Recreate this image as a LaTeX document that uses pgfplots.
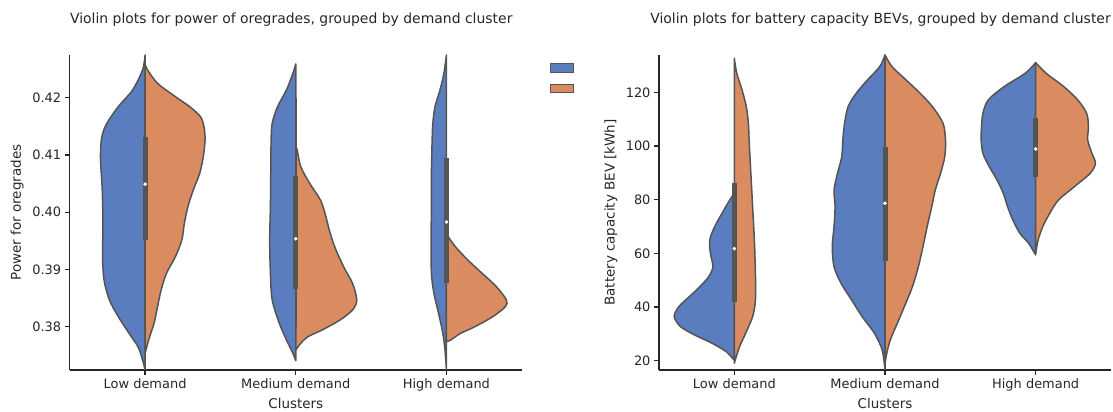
\documentclass[border=0pt]{standalone}
\usepackage{fontspec}
\setmainfont{DejaVu Sans}
\usepackage{pgfplots}
\pgfplotsset{compat=1.18}
\definecolor{vblue}{HTML}{597DBF}
\definecolor{vorange}{HTML}{DA8B5F}
\definecolor{vgray}{HTML}{545454}
\definecolor{axgray}{HTML}{262626}
\pgfplotsset{
  common/.style={
    scale only axis, width=452bp, height=315bp,
    xmin=-0.5, xmax=2.5,
    axis x line*=bottom, axis y line*=left,
    xtick={0,1,2}, xticklabels={Low demand, Medium demand, High demand},
    tick align=outside, major tick length=5bp,
    axis line style={color=axgray, line width=1.2bp},
    tick style={color=axgray, line width=1.2bp},
    tick label style={font=\fontsize{13}{15}\selectfont, text=axgray},
    label style={font=\fontsize{13.5}{16}\selectfont, text=axgray},
    title style={font=\fontsize{14}{16}\selectfont, text=axgray, at={(axis description cs:0.49,1)}, anchor=base, yshift=26bp},
    xlabel={Clusters},
    xlabel style={at={(axis description cs:0.5,0)}, anchor=center, yshift=-33bp},
    /pgf/number format/assume math mode=true,
  },
  vb/.style={fill=vblue, draw=vgray, line width=1.5bp, smooth, tension=0.5, line join=round, forget plot},
  vo/.style={fill=vorange, draw=vgray, line width=1.5bp, smooth, tension=0.5, line join=round, forget plot},
  wsk/.style={vgray, line width=1.5bp, forget plot},
  bx/.style={vgray, line width=5bp, forget plot},
  med/.style={only marks, mark=*, mark size=1.6bp, mark options={fill=white, draw=white}, forget plot},
}
\begin{document}
\begin{tikzpicture}
\useasboundingbox (0,0) rectangle (1113bp,412bp);
\begin{axis}[common, at={(69.75bp,42bp)}, anchor=south west,
  ymin=0.37243, ymax=0.42745,
  ytick={0.38,0.39,0.40,0.41,0.42},
  yticklabel style={/pgf/number format/.cd, fixed, fixed zerofill, precision=2},
  ylabel={Power for oregrades},
  ylabel style={at={(axis description cs:-0.1163,0.5)}, anchor=center},
  title={Violin plots for power of oregrades, grouped by demand cluster},
  legend style={draw=none, fill=none, inner sep=0pt, outer sep=0pt,
    at={(axis description cs:1.0614,0.9737)}, anchor=north west,
    row sep=10.9bp, nodes={inner sep=0pt, outer sep=0pt}},
]
\addlegendimage{legend image code/.code={\filldraw[fill=vblue, draw=vgray, line width=0.6bp] (0bp,-4.4bp) rectangle (23bp,4.4bp);}}
\addlegendentry{\mbox{}}
\addlegendimage{legend image code/.code={\filldraw[fill=vorange, draw=vgray, line width=0.6bp] (0bp,-4.4bp) rectangle (23bp,4.4bp);}}
\addlegendentry{\mbox{}}
% Low demand
\addplot[vb] coordinates {(0,0.37243) (-0.0166,0.37418) (-0.0474,0.37651) (-0.1066,0.37884) (-0.1777,0.38175) (-0.2370,0.38466) (-0.2725,0.38815) (-0.2820,0.39223) (-0.2796,0.39805) (-0.2844,0.40387) (-0.2962,0.40969) (-0.2867,0.41319) (-0.2536,0.41552) (-0.1777,0.41843) (-0.0829,0.42134) (-0.0166,0.42483) (0,0.42745)} -- cycle;
\addplot[vo] coordinates {(0,0.37534) (0.0237,0.37767) (0.0592,0.38058) (0.0829,0.38349) (0.1066,0.38640) (0.1422,0.38932) (0.2014,0.39223) (0.2441,0.39514) (0.2607,0.39805) (0.2844,0.40096) (0.3199,0.40387) (0.3626,0.40678) (0.3863,0.40969) (0.3981,0.41261) (0.3910,0.41493) (0.3673,0.41668) (0.2962,0.41843) (0.2014,0.42017) (0.0829,0.42250) (0.0166,0.42483) (0,0.42588)} -- cycle;
% Medium demand
\addplot[vb] coordinates {(1,0.37406) (0.9810,0.37534) (0.9384,0.37767) (0.8910,0.38058) (0.8436,0.38466) (0.8318,0.38932) (0.8270,0.39514) (0.8318,0.40096) (0.8341,0.40678) (0.8365,0.41261) (0.8436,0.41552) (0.8791,0.41843) (0.9384,0.42134) (0.9810,0.42425) (1,0.42588)} -- cycle;
\addplot[vo] coordinates {(1,0.37592) (1.0332,0.37709) (1.0806,0.37825) (1.1754,0.37942) (1.2938,0.38116) (1.3768,0.38291) (1.4052,0.38466) (1.3768,0.38757) (1.3175,0.39048) (1.2583,0.39397) (1.2227,0.39688) (1.1943,0.39980) (1.1635,0.40213) (1.0924,0.40504) (1.0332,0.40795) (1.0095,0.41086) (1,0.41140)} -- cycle;
% High demand
\addplot[vb] coordinates {(2,0.37243) (1.9905,0.37592) (1.9763,0.37884) (1.9479,0.38233) (1.9171,0.38582) (1.9005,0.38932) (1.8981,0.39514) (1.9005,0.40096) (1.9005,0.40678) (1.9052,0.41261) (1.9100,0.41552) (1.9242,0.41843) (1.9573,0.42134) (1.9834,0.42425) (2,0.42745)} -- cycle;
\addplot[vo] coordinates {(2,0.37738) (2.0284,0.37767) (2.0948,0.37884) (2.1896,0.38000) (2.3081,0.38175) (2.3910,0.38349) (2.3981,0.38466) (2.3318,0.38699) (2.2370,0.38932) (2.1422,0.39164) (2.0592,0.39397) (2.0118,0.39572) (2,0.39600)} -- cycle;
% inner boxes
\addplot[wsk] coordinates {(0,0.38) (0,0.42)};
\addplot[wsk] coordinates {(1,0.38) (1,0.42)};
\addplot[wsk] coordinates {(2,0.38) (2,0.42)};
\addplot[bx] coordinates {(0,0.39514) (0,0.41307)};
\addplot[bx] coordinates {(1,0.38664) (1,0.40632)};
\addplot[bx] coordinates {(2,0.38768) (2,0.40940)};
\addplot[med] coordinates {(0,0.40490) (1,0.39537) (2,0.39828)};
\end{axis}

\begin{axis}[common, at={(659bp,42bp)}, anchor=south west,
  ymin=16.52, ymax=133.91,
  ytick={20,40,60,80,100,120},
  ylabel={Battery capacity BEV [kWh]},
  ylabel style={at={(axis description cs:-0.1062,0.5)}, anchor=center},
  title={Violin plots for battery capacity BEVs, grouped by demand cluster},
]
% Low demand
\addplot[vb] coordinates {(0,20.25) (-0.0117,20.87) (-0.0537,23.35) (-0.1470,26.46) (-0.2637,29.57) (-0.3571,32.67) (-0.3991,36.40) (-0.3687,40.12) (-0.2987,43.85) (-0.2287,47.58) (-0.1704,51.30) (-0.1424,55.03) (-0.1587,60.00) (-0.1634,64.97) (-0.1307,69.94) (-0.0817,74.91) (-0.0303,79.88) (0,82.36)} -- cycle;
\addplot[vo] coordinates {(0,19.01) (0.0093,20.87) (0.0350,25.22) (0.0747,30.19) (0.1214,36.40) (0.1400,42.61) (0.1400,52.55) (0.1330,64.97) (0.1214,77.39) (0.1097,89.81) (0.0980,102.24) (0.0933,108.45) (0.0793,114.66) (0.0513,120.87) (0.0163,127.08) (0,132.67)} -- cycle;
% Medium demand
\addplot[vb] coordinates {(1,16.52) (0.9813,23.98) (0.9300,30.19) (0.8483,36.40) (0.7783,42.61) (0.7083,48.82) (0.6616,55.03) (0.6499,62.48) (0.6616,69.94) (0.6686,77.39) (0.6616,83.60) (0.6849,89.81) (0.7130,96.02) (0.7200,102.24) (0.7316,108.45) (0.7550,114.66) (0.8086,119.63) (0.8833,124.60) (0.9650,129.57) (1,133.91)} -- cycle;
\addplot[vo] coordinates {(1,19.01) (1.0117,22.73) (1.0350,27.70) (1.0817,33.91) (1.1284,40.12) (1.1820,47.58) (1.2217,55.03) (1.2520,62.48) (1.2800,69.94) (1.3104,77.39) (1.3337,83.60) (1.3687,89.81) (1.3967,96.02) (1.4014,102.24) (1.3851,108.45) (1.3151,114.66) (1.2334,119.63) (1.1400,124.60) (1.0467,129.57) (1,133.91)} -- cycle;
% High demand
\addplot[vb] coordinates {(2,59.38) (1.9533,63.73) (1.8950,67.45) (1.8483,72.42) (1.8133,77.39) (1.7853,82.36) (1.7433,87.33) (1.6920,92.30) (1.6499,97.27) (1.6383,102.24) (1.6406,107.20) (1.6499,112.17) (1.6849,117.14) (1.7900,122.11) (1.9300,127.08) (2,131.06)} -- cycle;
\addplot[vo] coordinates {(2,60.00) (2.0163,64.97) (2.0467,69.94) (2.0933,74.91) (2.1517,79.88) (2.2567,84.84) (2.3617,89.81) (2.3967,93.54) (2.3734,97.27) (2.3454,102.24) (2.3501,107.20) (2.3384,112.17) (2.2800,117.14) (2.1867,122.11) (2.0700,127.08) (2,131.06)} -- cycle;
% inner boxes
\addplot[wsk] coordinates {(0,30) (0,120)};
\addplot[wsk] coordinates {(1,30) (1,120)};
\addplot[wsk] coordinates {(2,63) (2,120)};
\addplot[bx] coordinates {(0,41.86) (0,86.34)};
\addplot[bx] coordinates {(1,57.02) (1,99.75)};
\addplot[bx] coordinates {(2,88.32) (2,110.56)};
\addplot[med] coordinates {(0,61.74) (1,78.63) (2,98.88)};
\end{axis}
\end{tikzpicture}
\end{document}
